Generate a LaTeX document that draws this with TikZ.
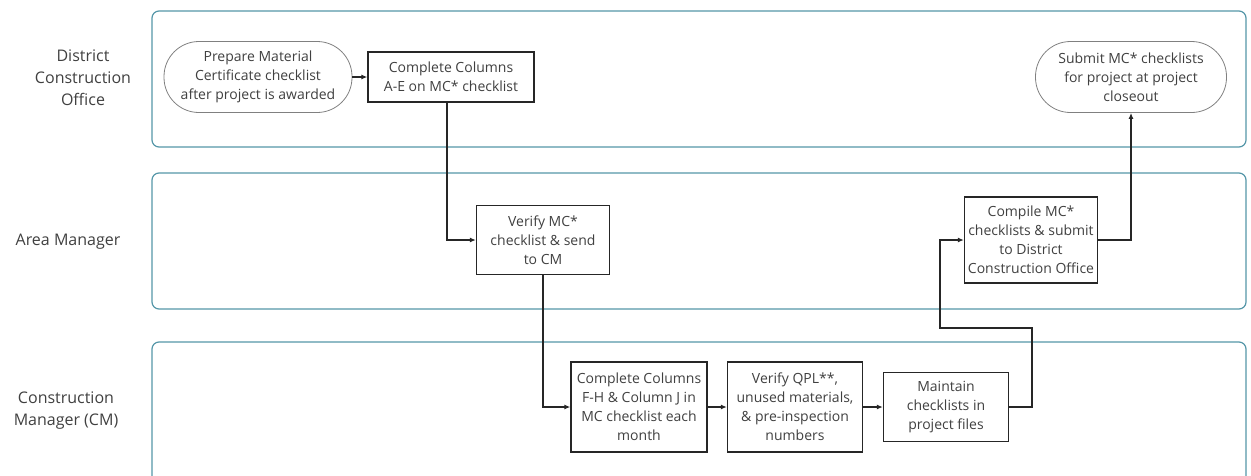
\documentclass[tikz,border=0pt]{standalone}
\usepackage{fontspec}
\setmainfont{Open Sans}
\usetikzlibrary{arrows.meta, positioning}

\definecolor{lanecol}{RGB}{84,150,168}
\definecolor{txtcol}{RGB}{64,64,64}

\tikzset{
  lane/.style={draw=lanecol, line width=1.2pt, rounded corners=7pt},
  lanelabel/.style={align=center, text=txtcol, font=\fontsize{16}{22}\selectfont},
  stepbox/.style={draw=black!85, line width=1.3pt, align=center, text=txtcol,
    inner sep=2pt},
  terminal/.style={draw=black!50, line width=0.8pt, rounded corners=35pt,
    align=center, text=txtcol, inner sep=2pt},
  flow/.style={draw=black!85, line width=1.2pt, -{Latex[length=6pt,width=5pt]}}
}

\begin{document}
\begin{tikzpicture}[x=1pt, y=-1pt, font=\fontsize{14}{19}\selectfont]
  \useasboundingbox (0,0) rectangle (1251,475);
  \clip (0,0) rectangle (1251,475);

  % swim lanes
  \draw[lane] (152,11) rectangle (1246,147);
  \draw[lane] (152,173) rectangle (1246,309);
  \draw[lane] (152,342) rectangle (1246,490);

  \node[lanelabel] (dco) at (83,78) {District\\Construction\\Office};
  \node[lanelabel] (am)  at (68,242) {Area Manager};
  \node[lanelabel] (cm)  at (66,411) {Construction\\Manager (CM)};

  % district construction office
  \node[terminal, minimum width=188pt, minimum height=71pt] (prep) at (258,77)
    {Prepare Material\\Certificate checklist\\after project is awarded};
  \node[stepbox, minimum width=166pt, minimum height=50pt] (colae) at (451,77)
    {Complete Columns\\A-E on MC* checklist};
  \node[terminal, minimum width=191pt, minimum height=71pt] (submit) at (1131,77)
    {Submit MC* checklists\\for project at project\\closeout};

  % area manager
  \node[stepbox, minimum width=133pt, minimum height=69pt] (verify) at (543,240)
    {Verify MC*\\checklist \& send\\to CM};
  \node[stepbox, minimum width=133pt, minimum height=86pt] (compile) at (1031,240)
    {Compile MC*\\checklists \& submit\\to District\\Construction Office};

  % construction manager
  \node[stepbox, minimum width=136pt, minimum height=90pt] (colfh) at (639,407)
    {Complete Columns\\F-H \& Column J in\\MC checklist each\\month};
  \node[stepbox, minimum width=135pt, minimum height=90pt] (qpl) at (795,407)
    {Verify QPL**,\\unused materials,\\\& pre-inspection\\numbers};
  \node[stepbox, minimum width=125pt, minimum height=69pt] (maint) at (946,407)
    {Maintain\\checklists in\\project files};

  \coordinate (up1) at (1032,328);
  \coordinate (up2) at (940,328);

  % connectors
  \draw[flow] (prep) -- (colae);
  \draw[flow] ([xshift=-4pt]colae.south) |- (verify.west);
  \draw[flow] (verify.south) |- (colfh.west);
  \draw[flow] (colfh) -- (qpl);
  \draw[flow] (qpl) -- (maint);
  \draw[flow] (maint.east) -| (up1) -- (up2) |- (compile.west);
  \draw[flow] (compile.east) -| (submit.south);
\end{tikzpicture}
\end{document}
